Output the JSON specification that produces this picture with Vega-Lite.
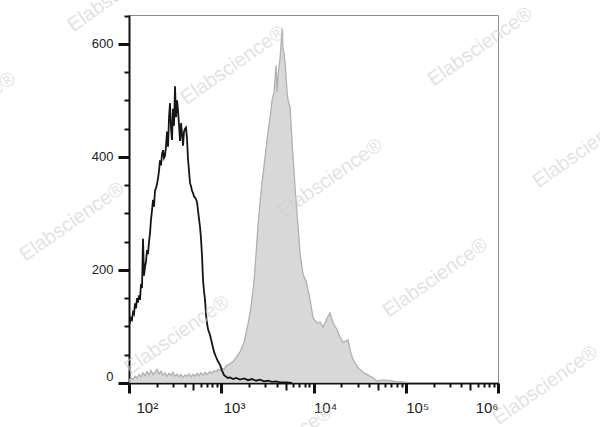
{
  "$schema": "https://vega.github.io/schema/vega-lite/v6.json",
  "width": 369,
  "height": 368,
  "autosize": {"type": "none"},
  "padding": {"left": 129, "top": 15, "right": 102, "bottom": 44},
  "background": "white",
  "config": {
    "view": {"stroke": "#8c8c8c", "strokeWidth": 1},
    "font": "Liberation Sans"
  },
  "datasets": {
    "control": [
      {"fluorescence": 100, "count": 103}, {"fluorescence": 102.5, "count": 108}, {"fluorescence": 105.1, "count": 115}, {"fluorescence": 107.8, "count": 112},
      {"fluorescence": 110.5, "count": 125}, {"fluorescence": 113.3, "count": 122}, {"fluorescence": 116.2, "count": 141}, {"fluorescence": 119.1, "count": 132},
      {"fluorescence": 122.1, "count": 150}, {"fluorescence": 125.2, "count": 142}, {"fluorescence": 128.4, "count": 155}, {"fluorescence": 131.6, "count": 147},
      {"fluorescence": 134.9, "count": 175}, {"fluorescence": 138.4, "count": 168}, {"fluorescence": 141.8, "count": 255}, {"fluorescence": 145.4, "count": 190},
      {"fluorescence": 149.1, "count": 205}, {"fluorescence": 152.9, "count": 215}, {"fluorescence": 156.8, "count": 235}, {"fluorescence": 160.7, "count": 228},
      {"fluorescence": 164.8, "count": 250}, {"fluorescence": 169, "count": 265}, {"fluorescence": 173.3, "count": 290}, {"fluorescence": 177.6, "count": 305},
      {"fluorescence": 182.1, "count": 324}, {"fluorescence": 186.7, "count": 312}, {"fluorescence": 191.4, "count": 340}, {"fluorescence": 196.3, "count": 345},
      {"fluorescence": 201.2, "count": 352}, {"fluorescence": 206.3, "count": 362}, {"fluorescence": 211.5, "count": 375}, {"fluorescence": 216.9, "count": 394},
      {"fluorescence": 222.4, "count": 385}, {"fluorescence": 228, "count": 405}, {"fluorescence": 233.8, "count": 412}, {"fluorescence": 239.7, "count": 398},
      {"fluorescence": 245.7, "count": 402}, {"fluorescence": 252, "count": 420}, {"fluorescence": 258.3, "count": 445}, {"fluorescence": 264.9, "count": 418},
      {"fluorescence": 271.6, "count": 470}, {"fluorescence": 278.4, "count": 495}, {"fluorescence": 285.5, "count": 450}, {"fluorescence": 292.7, "count": 430},
      {"fluorescence": 300.1, "count": 485}, {"fluorescence": 307.7, "count": 455}, {"fluorescence": 315.4, "count": 525}, {"fluorescence": 323.4, "count": 470},
      {"fluorescence": 331.6, "count": 500}, {"fluorescence": 340, "count": 482}, {"fluorescence": 348.6, "count": 455}, {"fluorescence": 357.4, "count": 428},
      {"fluorescence": 366.4, "count": 460}, {"fluorescence": 375.7, "count": 440}, {"fluorescence": 385.2, "count": 420}, {"fluorescence": 394.9, "count": 445},
      {"fluorescence": 404.9, "count": 450}, {"fluorescence": 415.1, "count": 452}, {"fluorescence": 425.6, "count": 432}, {"fluorescence": 436.4, "count": 395},
      {"fluorescence": 447.4, "count": 375}, {"fluorescence": 458.7, "count": 354}, {"fluorescence": 470.3, "count": 348}, {"fluorescence": 482.2, "count": 340},
      {"fluorescence": 494.4, "count": 336}, {"fluorescence": 506.9, "count": 330}, {"fluorescence": 519.7, "count": 328}, {"fluorescence": 532.8, "count": 325},
      {"fluorescence": 546.3, "count": 320}, {"fluorescence": 560.1, "count": 305}, {"fluorescence": 574.3, "count": 290}, {"fluorescence": 588.8, "count": 276},
      {"fluorescence": 603.7, "count": 255}, {"fluorescence": 618.9, "count": 225}, {"fluorescence": 634.6, "count": 182}, {"fluorescence": 650.6, "count": 162},
      {"fluorescence": 667.1, "count": 147}, {"fluorescence": 684, "count": 120}, {"fluorescence": 701.3, "count": 106}, {"fluorescence": 719, "count": 95},
      {"fluorescence": 755.8, "count": 85}, {"fluorescence": 794.6, "count": 70}, {"fluorescence": 835.3, "count": 55}, {"fluorescence": 878.1, "count": 46},
      {"fluorescence": 923.1, "count": 38}, {"fluorescence": 970.4, "count": 32}, {"fluorescence": 1020, "count": 22}, {"fluorescence": 1073, "count": 14},
      {"fluorescence": 1127, "count": 11}, {"fluorescence": 1185, "count": 9}, {"fluorescence": 1246, "count": 10}, {"fluorescence": 1343, "count": 7},
      {"fluorescence": 1447, "count": 9}, {"fluorescence": 1599, "count": 6}, {"fluorescence": 1767, "count": 8}, {"fluorescence": 1953, "count": 5},
      {"fluorescence": 2158, "count": 7}, {"fluorescence": 2385, "count": 4}, {"fluorescence": 2636, "count": 6}, {"fluorescence": 2913, "count": 3},
      {"fluorescence": 3219, "count": 4}, {"fluorescence": 3556, "count": 2}, {"fluorescence": 3930, "count": 3}, {"fluorescence": 4343, "count": 1},
      {"fluorescence": 5045, "count": 1}, {"fluorescence": 5861, "count": 0}
    ],
    "stained": [
      {"fluorescence": 100, "count": 4}, {"fluorescence": 102.5, "count": 7}, {"fluorescence": 105.1, "count": 9}, {"fluorescence": 110.5, "count": 6},
      {"fluorescence": 116.2, "count": 12}, {"fluorescence": 122.1, "count": 9}, {"fluorescence": 128.4, "count": 15}, {"fluorescence": 134.9, "count": 11},
      {"fluorescence": 141.8, "count": 18}, {"fluorescence": 149.1, "count": 13}, {"fluorescence": 156.8, "count": 20}, {"fluorescence": 164.8, "count": 14},
      {"fluorescence": 173.3, "count": 22}, {"fluorescence": 182.1, "count": 15}, {"fluorescence": 191.4, "count": 19}, {"fluorescence": 201.2, "count": 24},
      {"fluorescence": 211.5, "count": 16}, {"fluorescence": 222.4, "count": 21}, {"fluorescence": 233.8, "count": 14}, {"fluorescence": 245.7, "count": 18},
      {"fluorescence": 258.3, "count": 12}, {"fluorescence": 271.6, "count": 17}, {"fluorescence": 285.5, "count": 13}, {"fluorescence": 300.1, "count": 19},
      {"fluorescence": 315.4, "count": 12}, {"fluorescence": 331.6, "count": 16}, {"fluorescence": 348.6, "count": 11}, {"fluorescence": 366.4, "count": 15},
      {"fluorescence": 385.2, "count": 10}, {"fluorescence": 404.9, "count": 14}, {"fluorescence": 425.6, "count": 12}, {"fluorescence": 447.4, "count": 16},
      {"fluorescence": 470.3, "count": 11}, {"fluorescence": 494.4, "count": 15}, {"fluorescence": 519.7, "count": 12}, {"fluorescence": 546.3, "count": 17},
      {"fluorescence": 574.3, "count": 13}, {"fluorescence": 603.7, "count": 18}, {"fluorescence": 634.6, "count": 14}, {"fluorescence": 667.1, "count": 19},
      {"fluorescence": 701.3, "count": 15}, {"fluorescence": 755.8, "count": 20}, {"fluorescence": 794.6, "count": 17}, {"fluorescence": 835.3, "count": 22},
      {"fluorescence": 878.1, "count": 20}, {"fluorescence": 923.1, "count": 24}, {"fluorescence": 970.4, "count": 22}, {"fluorescence": 1020, "count": 26},
      {"fluorescence": 1073, "count": 24}, {"fluorescence": 1127, "count": 30}, {"fluorescence": 1185, "count": 32}, {"fluorescence": 1246, "count": 34},
      {"fluorescence": 1343, "count": 38}, {"fluorescence": 1447, "count": 45}, {"fluorescence": 1599, "count": 55}, {"fluorescence": 1767, "count": 72},
      {"fluorescence": 1953, "count": 105}, {"fluorescence": 2053, "count": 124}, {"fluorescence": 2158, "count": 150}, {"fluorescence": 2268, "count": 180},
      {"fluorescence": 2385, "count": 230}, {"fluorescence": 2507, "count": 280}, {"fluorescence": 2636, "count": 320}, {"fluorescence": 2771, "count": 355},
      {"fluorescence": 2913, "count": 385}, {"fluorescence": 3062, "count": 415}, {"fluorescence": 3219, "count": 445}, {"fluorescence": 3384, "count": 470},
      {"fluorescence": 3556, "count": 500}, {"fluorescence": 3739, "count": 515}, {"fluorescence": 3930, "count": 562}, {"fluorescence": 4030, "count": 515},
      {"fluorescence": 4132, "count": 545}, {"fluorescence": 4343, "count": 575}, {"fluorescence": 4450, "count": 600}, {"fluorescence": 4565, "count": 627},
      {"fluorescence": 4680, "count": 590}, {"fluorescence": 4799, "count": 583}, {"fluorescence": 4920, "count": 566}, {"fluorescence": 5045, "count": 540},
      {"fluorescence": 5170, "count": 515}, {"fluorescence": 5303, "count": 500}, {"fluorescence": 5575, "count": 488}, {"fluorescence": 5861, "count": 425},
      {"fluorescence": 6006, "count": 400}, {"fluorescence": 6316, "count": 345}, {"fluorescence": 6808, "count": 275}, {"fluorescence": 7157, "count": 228},
      {"fluorescence": 7715, "count": 192}, {"fluorescence": 8313, "count": 180}, {"fluorescence": 9186, "count": 147}, {"fluorescence": 9901, "count": 115},
      {"fluorescence": 10940, "count": 106}, {"fluorescence": 11790, "count": 108}, {"fluorescence": 12710, "count": 99}, {"fluorescence": 14050, "count": 115},
      {"fluorescence": 15140, "count": 124}, {"fluorescence": 16320, "count": 106}, {"fluorescence": 18030, "count": 94}, {"fluorescence": 19430, "count": 81},
      {"fluorescence": 20940, "count": 72}, {"fluorescence": 23730, "count": 76}, {"fluorescence": 24950, "count": 58}, {"fluorescence": 26890, "count": 41},
      {"fluorescence": 30460, "count": 27}, {"fluorescence": 34510, "count": 19}, {"fluorescence": 39100, "count": 14}, {"fluorescence": 44300, "count": 9},
      {"fluorescence": 48960, "count": 3}, {"fluorescence": 52770, "count": 5}, {"fluorescence": 62840, "count": 5}, {"fluorescence": 76740, "count": 3},
      {"fluorescence": 93720, "count": 2}, {"fluorescence": 111600, "count": 0}, {"fluorescence": 1000000, "count": 0}
    ],
    "watermarks": [
      {"fluorescence": 80, "count": 691, "label": "Elabscience®"},
      {"fluorescence": 1.6, "count": 480, "label": "Elabscience®"},
      {"fluorescence": 1343, "count": 562, "label": "Elabscience®"},
      {"fluorescence": 641000, "count": 595, "label": "Elabscience®"},
      {"fluorescence": 15140, "count": 362, "label": "Elabscience®"},
      {"fluorescence": 8830000, "count": 415, "label": "Elabscience®"},
      {"fluorescence": 24.1, "count": 285, "label": "Elabscience®"},
      {"fluorescence": 331.6, "count": 85, "label": "Elabscience®"},
      {"fluorescence": 208400, "count": 186, "label": "Elabscience®"},
      {"fluorescence": 3250000, "count": -4, "label": "Elabscience®"},
      {"fluorescence": 4343, "count": -110, "label": "Elabscience®"}
    ]
  },
  "encoding": {
    "x": {
      "field": "fluorescence",
      "type": "quantitative",
      "scale": {"type": "log", "domain": [100, 1000000], "nice": false},
      "axis": {
        "title": null,
        "grid": false,
        "values": [100, 200, 300, 400, 500, 600, 700, 800, 900, 1000, 2000, 3000, 4000, 5000, 6000, 7000, 8000, 9000, 10000, 20000, 30000, 40000, 50000, 60000, 70000, 80000, 90000, 100000, 200000, 300000, 400000, 500000, 600000, 700000, 800000, 900000, 1000000],
        "labelExpr": "datum.value == 100 ? '10²' : datum.value == 1000 ? '10³' : datum.value == 10000 ? '10⁴' : datum.value == 100000 ? '10⁵' : datum.value == 1000000 ? '10⁶' : ''",
        "labelFont": "Liberation Sans",
        "labelFontSize": 15,
        "labelColor": "#222222",
        "labelOverlap": false,
        "labelFlush": false,
        "labelBound": false,
        "labelPadding": 7,
        "labelAlign": {"condition": {"test": "datum.value >= 1000000", "value": "right"}, "value": "left"},
        "labelOffset": {"condition": [{"test": "datum.value == 100", "value": 7}, {"test": "datum.value == 1000", "value": 2}], "value": 0},
        "domainColor": "#111111",
        "domainWidth": 2,
        "tickColor": "#111111",
        "tickSize": {"condition": [{"test": "indexof([100,1000,10000,100000,1000000], datum.value) >= 0", "value": 10}, {"test": "indexof([500,5000,50000,500000], datum.value) >= 0", "value": 7}], "value": 4},
        "tickWidth": {"condition": {"test": "indexof([100,1000,10000,100000,1000000], datum.value) >= 0", "value": 3}, "value": 2}
      }
    },
    "y": {
      "field": "count",
      "type": "quantitative",
      "scale": {"domain": [0, 651], "nice": false, "zero": false},
      "axis": {
        "title": null,
        "grid": false,
        "values": [0, 50, 100, 150, 200, 250, 300, 350, 400, 450, 500, 550, 600, 650],
        "labelExpr": "datum.value % 200 == 0 ? datum.label : ''",
        "labelFont": "Liberation Sans",
        "labelFontSize": 13,
        "labelColor": "#222222",
        "labelOverlap": false,
        "labelFlush": true,
        "labelPadding": 5,
        "domainColor": "#111111",
        "domainWidth": 2,
        "tickColor": "#111111",
        "tickSize": {"condition": {"test": "datum.value % 200 == 0", "value": 11}, "value": 5},
        "tickWidth": {"condition": {"test": "datum.value % 200 == 0", "value": 3}, "value": 2}
      }
    }
  },
  "layer": [
    {
      "data": {"name": "stained"},
      "mark": {"type": "area", "color": "#c8c8c8", "clip": true, "line": {"color": "#b0b0b0", "strokeWidth": 1.3}}
    },
    {
      "data": {"name": "control"},
      "mark": {"type": "line", "color": "#151515", "strokeWidth": 1.8, "clip": true}
    },
    {
      "data": {"name": "watermarks"},
      "mark": {"type": "text", "angle": -35, "fontSize": 20, "font": "Liberation Sans", "color": "#d0d0d0", "opacity": 0.6},
      "encoding": {"text": {"field": "label"}}
    }
  ]
}
